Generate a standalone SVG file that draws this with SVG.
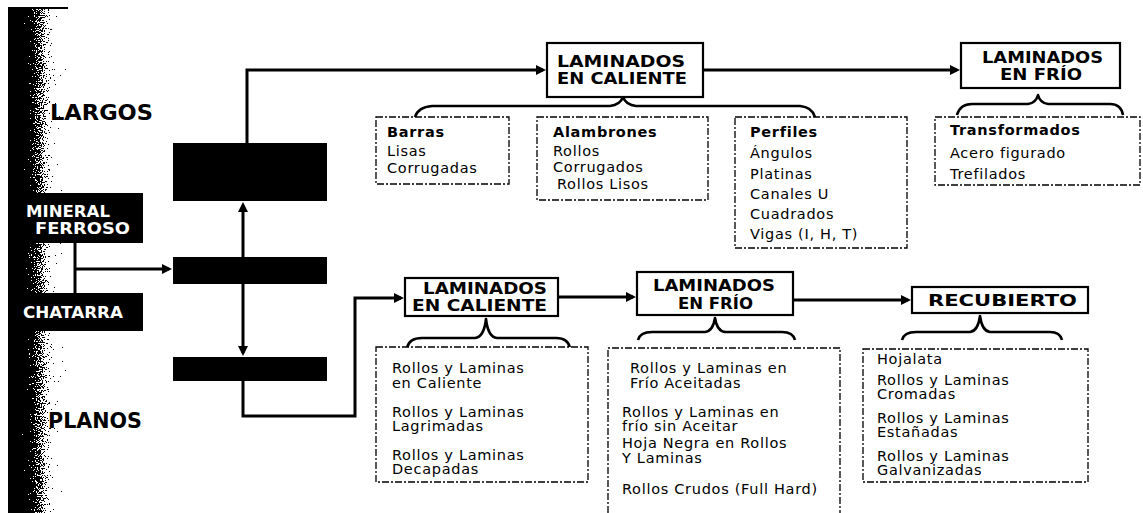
<svg xmlns="http://www.w3.org/2000/svg" width="1143" height="513" viewBox="0 0 1143 513">
<style>
.blk{fill:#000}
.hdr{fill:#fff;stroke:#000;stroke-width:2.2}
.dash{fill:#fff;stroke:#000;stroke-width:1.3;stroke-dasharray:7 2 2 2}
.conn{fill:none;stroke:#000;stroke-width:3}
.brace{fill:none;stroke:#000;stroke-width:2.6;stroke-linejoin:round}
.h{font-family:"DejaVu Sans","Liberation Sans",sans-serif;font-weight:bold;font-size:15px;fill:#000}
.side{font-family:"DejaVu Sans","Liberation Sans",sans-serif;font-weight:bold;font-size:22px;fill:#000}
.wt{font-family:"DejaVu Sans","Liberation Sans",sans-serif;font-weight:bold;font-size:15px;fill:#fff}
.t{font-family:"DejaVu Sans","Liberation Sans",sans-serif;font-size:14.5px;letter-spacing:0.7px;fill:#000}
.b{font-weight:bold}
</style>
<defs>
<linearGradient id="barg" x1="0" y1="0" x2="1" y2="0">
<stop offset="0" stop-color="#000"/>
<stop offset="0.22" stop-color="#000"/>
<stop offset="0.5" stop-color="#666"/>
<stop offset="0.8" stop-color="#ddd"/>
<stop offset="1" stop-color="#fff"/>
</linearGradient>
<filter id="grain" x="0" y="0" width="1" height="1" color-interpolation-filters="sRGB">
<feTurbulence type="fractalNoise" baseFrequency="0.85" numOctaves="2" seed="4" result="n"/>
<feColorMatrix in="n" type="matrix" values="0.33 0.33 0.33 0 0 0.33 0.33 0.33 0 0 0.33 0.33 0.33 0 0 0 0 0 0 1" result="ng"/>
<feComposite in="SourceGraphic" in2="ng" operator="arithmetic" k1="0" k2="1" k3="2.2" k4="-1.1" result="s"/>
<feComponentTransfer in="s">
<feFuncR type="discrete" tableValues="0 1"/>
<feFuncG type="discrete" tableValues="0 1"/>
<feFuncB type="discrete" tableValues="0 1"/>
</feComponentTransfer>
</filter>
<marker id="ah" viewBox="0 0 10 10" refX="7" refY="5" markerWidth="12" markerHeight="10" markerUnits="userSpaceOnUse" orient="auto">
<path d="M0,0 L10,5 L0,10 z" fill="#000"/>
</marker>
</defs>

<g id="sidebar">
<rect x="8" y="8" width="58" height="505" fill="url(#barg)" filter="url(#grain)"/>
<line x1="8" y1="8" x2="68" y2="8" stroke="#000" stroke-width="2"/>
</g>
<g id="largos"><text class="side" x="50" y="120" textLength="103" lengthAdjust="spacingAndGlyphs">LARGOS</text></g>
<g id="planos"><text class="side" x="48" y="428" textLength="94" lengthAdjust="spacingAndGlyphs">PLANOS</text></g>

<g id="mineral">
<rect class="blk" x="10" y="193" width="133" height="50"/>
<text class="wt" x="26" y="217" textLength="84" lengthAdjust="spacingAndGlyphs">MINERAL</text>
<text class="wt" x="35" y="234" textLength="95" lengthAdjust="spacingAndGlyphs">FERROSO</text>
</g>
<g id="chatarra">
<rect class="blk" x="10" y="293" width="133" height="38"/>
<text class="wt" x="23" y="318" textLength="100" lengthAdjust="spacingAndGlyphs">CHATARRA</text>
</g>

<g id="proc-top"><rect class="blk" x="173" y="143" width="154" height="58"/></g>
<g id="proc-mid"><rect class="blk" x="173" y="257" width="154" height="27"/></g>
<g id="proc-bot"><rect class="blk" x="173" y="357" width="154" height="24"/></g>

<g id="connectors">
<path class="conn" d="M75,243 L75,293"/>
<path class="conn" d="M75,269 L169,269" marker-end="url(#ah)"/>
<path class="conn" d="M243,257 L243,205" marker-end="url(#ah)"/>
<path class="conn" d="M243,284 L243,353" marker-end="url(#ah)"/>
<path class="conn" d="M247,143 L247,70 L543,70" marker-end="url(#ah)"/>
<path class="conn" d="M703,70 L957,70" marker-end="url(#ah)"/>
<path class="conn" d="M243,381 L243,416 L355,416 L355,298 L401,298" marker-end="url(#ah)"/>
<path class="conn" d="M558,297 L633,297" marker-end="url(#ah)"/>
<path class="conn" d="M793,300 L908,300" marker-end="url(#ah)"/>
<path class="brace" d="M415,117 Q418,107 432,106 L610,106 Q620,105 623,97 Q626,105 636,106 L800,106 Q812,107 815,117"/>
<path class="brace" d="M957,115 Q960,104 972,104 L1028,104 Q1036,103 1038,95 Q1040,103 1048,104 L1110,104 Q1121,104 1123,115"/>
<path class="brace" d="M407,348 Q409,338 422,338 L475,338 Q484,337 486,319 Q488,337 497,338 L556,338 Q568,338 570,348"/>
<path class="brace" d="M638,340 Q640,332 652,332 L705,332 Q713,331 715,318 Q717,331 725,332 L782,332 Q793,332 795,340"/>
<path class="brace" d="M902,340 Q904,332 916,332 L970,332 Q978,331 980,316 Q982,331 990,332 L1050,332 Q1060,332 1062,340"/>
</g>

<g id="lam-cal-top">
<rect class="hdr" x="547" y="43" width="156" height="54"/>
<text class="h" x="557" y="67" textLength="128" lengthAdjust="spacingAndGlyphs">LAMINADOS</text>
<text class="h" x="557" y="84" textLength="130" lengthAdjust="spacingAndGlyphs">EN CALIENTE</text>
</g>
<g id="lam-frio-top">
<rect class="hdr" x="961" y="43" width="159" height="45"/>
<text class="h" x="982" y="63" textLength="121" lengthAdjust="spacingAndGlyphs">LAMINADOS</text>
<text class="h" x="1000" y="80" textLength="82" lengthAdjust="spacingAndGlyphs">EN FRÍO</text>
</g>
<g id="barras">
<rect class="dash" x="376" y="117" width="133" height="67"/>
<text class="t b" x="387" y="137">Barras</text>
<text class="t" x="387" y="156">Lisas</text>
<text class="t" x="387" y="173">Corrugadas</text>
</g>
<g id="alambrones">
<rect class="dash" x="537" y="117" width="171" height="83"/>
<text class="t b" x="553" y="137">Alambrones</text>
<text class="t" x="553" y="156">Rollos</text>
<text class="t" x="553" y="172">Corrugados</text>
<text class="t" x="557" y="189">Rollos Lisos</text>
</g>
<g id="perfiles">
<rect class="dash" x="735" y="117" width="172" height="131"/>
<text class="t b" x="750" y="137">Perfiles</text>
<text class="t" x="750" y="158">Ángulos</text>
<text class="t" x="750" y="179">Platinas</text>
<text class="t" x="750" y="199">Canales U</text>
<text class="t" x="750" y="219">Cuadrados</text>
<text class="t" x="750" y="239">Vigas (I, H, T)</text>
</g>
<g id="transformados">
<rect class="dash" x="935" y="117" width="205" height="68"/>
<text class="t b" x="950" y="135">Transformados</text>
<text class="t" x="950" y="158">Acero figurado</text>
<text class="t" x="950" y="179">Trefilados</text>
</g>

<g id="lam-cal-bot">
<rect class="hdr" x="405" y="278" width="153" height="38"/>
<text class="h" x="423" y="294" textLength="124" lengthAdjust="spacingAndGlyphs">LAMINADOS</text>
<text class="h" x="412" y="311" textLength="135" lengthAdjust="spacingAndGlyphs">EN CALIENTE</text>
</g>
<g id="lam-frio-bot">
<rect class="hdr" x="637" y="272" width="156" height="43"/>
<text class="h" x="653" y="291" textLength="122" lengthAdjust="spacingAndGlyphs">LAMINADOS</text>
<text class="h" x="678" y="309" textLength="75" lengthAdjust="spacingAndGlyphs">EN FRÍO</text>
</g>
<g id="recubierto">
<rect class="hdr" x="912" y="287" width="176" height="26"/>
<text class="h" x="928" y="306" textLength="149" lengthAdjust="spacingAndGlyphs">RECUBIERTO</text>
</g>
<g id="list-cal">
<rect class="dash" x="376" y="347" width="212" height="135"/>
<text class="t" x="392" y="373">Rollos y Laminas</text>
<text class="t" x="392" y="388">en Caliente</text>
<text class="t" x="392" y="417">Rollos y Laminas</text>
<text class="t" x="392" y="431">Lagrimadas</text>
<text class="t" x="392" y="460">Rollos y Laminas</text>
<text class="t" x="392" y="474">Decapadas</text>
</g>
<g id="list-frio">
<path class="dash" d="M608,513 L608,348 L840,348 L840,513"/>
<text class="t" x="630" y="373">Rollos y Laminas en</text>
<text class="t" x="630" y="388">Frío Aceitadas</text>
<text class="t" x="622" y="417">Rollos y Laminas en</text>
<text class="t" x="622" y="431">frío sin Aceitar</text>
<text class="t" x="622" y="448">Hoja Negra en Rollos</text>
<text class="t" x="622" y="463">Y Laminas</text>
<text class="t" x="622" y="494">Rollos Crudos (Full Hard)</text>
</g>
<g id="list-rec">
<rect class="dash" x="863" y="349" width="225" height="133"/>
<text class="t" x="877" y="364">Hojalata</text>
<text class="t" x="877" y="385">Rollos y Laminas</text>
<text class="t" x="877" y="399">Cromadas</text>
<text class="t" x="877" y="423">Rollos y Laminas</text>
<text class="t" x="877" y="437">Estañadas</text>
<text class="t" x="877" y="461">Rollos y Laminas</text>
<text class="t" x="877" y="475">Galvanizadas</text>
</g>
</svg>
